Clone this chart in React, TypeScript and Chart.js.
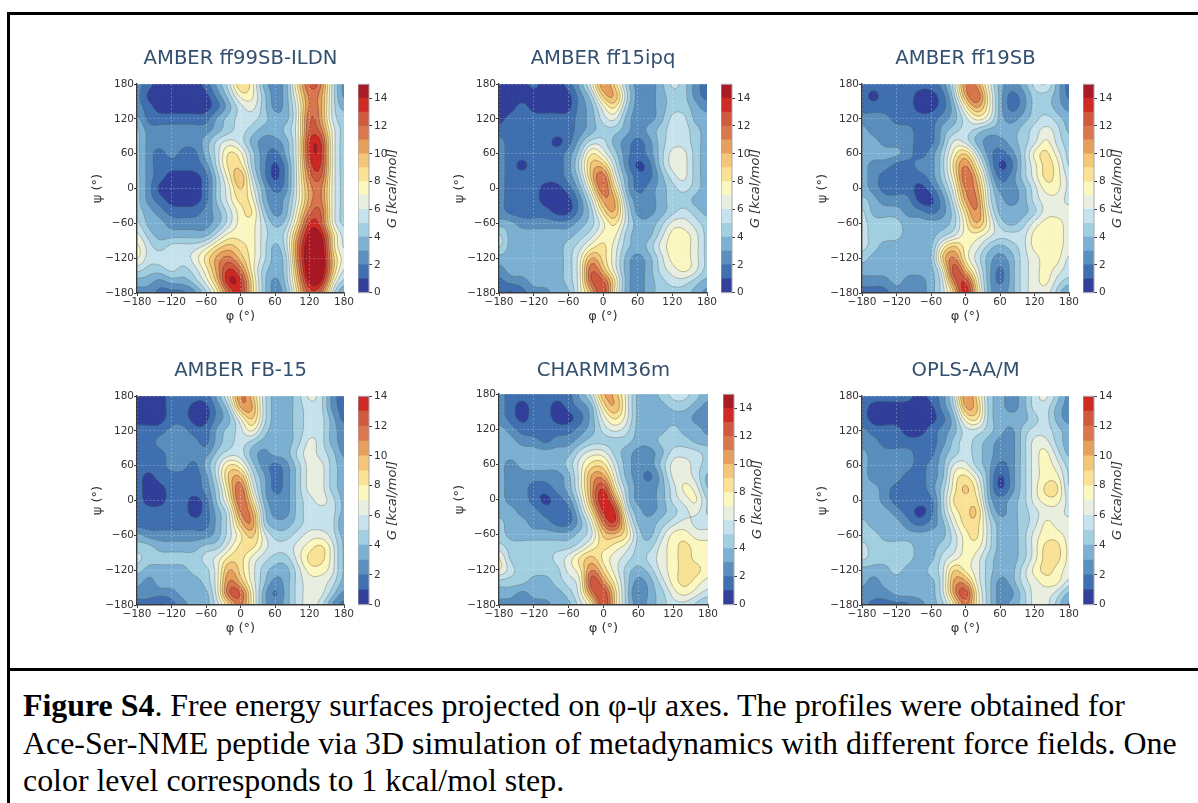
import React, { useEffect, useRef } from "react";
import { Chart, registerables } from "chart.js";

Chart.register(...registerables);

// Node positions of the free-energy grids (degrees)
const phiNodes = [-180, -160, -140, -120, -100, -80, -60, -40, -20, 0, 20, 40, 60, 80, 100, 120, 140, 160, 180];
const psiNodes = [180, 160, 140, 120, 100, 80, 60, 40, 20, 0, -20, -40, -60, -80, -100, -120, -140, -160, -180];

// Colour level (kcal/mol band, 1 kcal/mol each) read at every node; rows follow psiNodes, columns phiNodes
const ff99sbIldn = [
  [2,1,0,0,0,0,1,3,5,9,7,3,2,3,8,12,11,5,2],
  [2,0,0,0,0,0,0,2,4,7,7,4,2,3,7,11,10,5,2],
  [2,1,0,0,0,0,0,1,3,5,6,4,2,3,6,11,10,5,3],
  [3,1,1,1,1,1,1,3,4,5,5,4,3,3,6,12,10,5,4],
  [4,2,2,2,2,2,2,3,4,5,4,3,3,4,6,12,11,6,4],
  [4,2,2,2,2,2,3,5,6,5,3,2,2,3,6,13,13,6,4],
  [4,2,1,2,1,1,3,5,8,7,4,2,1,3,6,13,13,6,4],
  [4,2,1,1,1,1,2,5,8,8,4,2,0,2,6,12,13,6,4],
  [4,2,1,0,0,0,1,4,7,10,5,2,0,2,6,11,12,6,4],
  [4,2,0,0,0,0,1,4,6,9,6,3,1,2,6,10,11,6,4],
  [4,2,1,0,0,0,1,4,6,8,7,3,2,3,6,10,11,6,4],
  [4,3,2,1,1,1,2,3,5,7,8,4,2,3,7,11,12,6,4],
  [5,3,3,2,2,2,2,3,5,7,7,5,3,4,8,13,12,6,4],
  [6,4,3,3,3,3,3,5,7,7,7,5,4,5,10,14,14,8,5],
  [7,5,4,5,5,5,6,8,9,8,7,5,3,5,11,15,15,8,5],
  [7,5,5,5,5,6,8,10,11,9,7,5,3,4,11,15,15,9,6],
  [5,4,4,5,4,5,7,10,13,11,7,4,3,4,10,15,15,9,5],
  [3,3,2,3,3,4,6,9,14,13,8,4,2,4,9,14,14,7,4],
  [2,2,1,1,1,2,4,7,11,13,8,4,2,3,8,12,11,5,2],
];
const ff15ipq = [
  [0,0,0,1,0,0,1,3,6,11,8,4,2,2,3,5,4,2,1],
  [0,0,0,0,0,0,0,2,4,9,10,5,2,2,3,4,4,2,1],
  [0,0,1,0,0,0,0,2,3,6,8,4,2,2,3,4,4,3,2],
  [0,1,1,1,1,1,1,2,3,5,6,3,2,2,3,5,5,3,3],
  [1,1,1,1,1,1,1,2,3,4,4,3,2,3,4,5,5,4,3],
  [2,1,1,1,1,0,1,3,5,5,3,2,1,2,4,5,5,4,3],
  [2,1,1,1,1,1,2,4,8,6,4,2,1,2,4,6,6,4,3],
  [2,1,0,1,1,1,2,5,9,9,5,2,0,1,4,6,6,4,3],
  [2,1,1,1,1,1,2,4,9,12,6,3,1,1,3,5,6,4,3],
  [2,1,1,1,0,0,1,3,7,12,8,3,1,2,3,4,5,4,3],
  [2,1,1,1,0,0,0,2,5,10,10,4,2,2,3,4,4,3,3],
  [2,1,1,1,1,0,0,2,4,8,10,5,2,2,3,4,5,4,3],
  [3,3,2,2,2,2,2,3,4,6,8,5,3,3,4,6,6,5,4],
  [5,3,3,3,3,3,3,4,5,7,7,4,3,3,5,7,7,6,4],
  [5,3,3,3,3,3,4,5,7,8,6,4,3,4,6,7,7,6,4],
  [3,3,3,3,3,3,4,6,10,8,6,3,2,3,5,7,7,6,4],
  [2,3,3,3,3,3,4,6,12,9,6,3,2,3,5,6,7,6,4],
  [1,2,2,3,3,3,4,6,12,12,8,3,2,3,4,5,5,4,3],
  [1,0,1,2,2,3,3,6,9,13,7,3,2,3,4,4,4,3,2],
];
const ff19sb = [
  [1,1,1,1,1,1,1,2,5,11,10,6,3,2,3,5,6,3,1],
  [1,0,1,1,1,0,0,1,4,10,12,7,3,1,2,4,4,3,1],
  [1,1,1,1,1,0,0,1,3,7,10,7,3,1,2,4,4,3,2],
  [2,2,2,1,1,1,1,2,3,5,7,6,3,2,3,4,5,4,3],
  [3,2,2,2,2,1,1,3,4,5,4,3,3,3,4,5,6,5,3],
  [3,3,2,2,2,1,1,3,6,5,3,2,2,3,4,5,7,5,4],
  [3,3,3,3,2,1,2,4,7,9,5,2,1,2,4,7,8,6,4],
  [3,2,2,1,1,2,2,4,8,11,7,3,0,1,4,6,8,7,4],
  [3,2,1,1,1,1,2,4,7,12,9,4,1,2,4,6,8,7,5],
  [3,2,1,1,1,0,1,3,6,11,10,5,2,2,3,5,7,7,5],
  [4,3,2,2,2,0,0,2,5,10,11,5,3,2,3,5,6,6,5],
  [5,3,3,3,2,2,1,2,4,8,11,6,3,3,3,4,6,6,6],
  [5,4,4,4,3,3,3,3,4,7,10,7,4,3,4,6,7,7,6],
  [5,4,4,4,3,3,3,4,5,7,7,6,5,5,5,7,7,7,6],
  [5,4,3,3,3,3,3,7,9,7,6,4,3,4,5,7,7,7,6],
  [4,3,3,3,3,3,3,9,11,7,5,3,2,3,5,6,7,7,5],
  [3,3,3,3,3,3,3,6,13,9,6,3,1,3,5,6,7,6,5],
  [2,2,2,3,2,2,3,5,11,13,7,3,1,3,5,6,7,5,4],
  [1,1,1,2,2,2,3,5,8,14,8,3,2,3,5,6,6,4,2],
];
const fb15 = [
  [0,0,0,1,1,1,1,3,6,11,9,5,3,3,4,6,5,2,1],
  [0,0,0,1,1,0,0,2,4,10,10,5,3,3,4,5,5,2,1],
  [0,0,0,1,1,0,0,2,3,6,9,5,3,3,4,5,5,3,1],
  [1,1,1,2,2,1,1,3,4,5,7,4,3,3,4,5,5,3,2],
  [1,1,2,2,2,2,1,3,4,5,4,3,3,3,4,6,5,3,2],
  [1,1,1,2,2,2,2,4,5,5,3,2,3,3,5,6,5,4,2],
  [1,1,1,2,2,1,3,5,8,7,4,2,1,2,4,6,6,4,3],
  [1,0,1,1,1,1,2,5,9,10,5,3,1,2,4,6,6,4,3],
  [1,0,0,1,1,1,2,4,8,12,6,3,1,2,4,6,6,4,3],
  [1,0,0,1,1,0,1,4,7,12,8,3,2,2,4,5,6,5,3],
  [1,1,1,1,1,0,1,3,5,11,10,4,2,2,4,5,5,5,3],
  [1,1,1,1,1,1,1,3,5,9,11,4,3,3,4,5,5,5,2],
  [3,2,2,2,2,2,2,3,5,7,9,6,4,4,5,6,6,5,3],
  [4,4,3,3,3,3,4,4,6,8,8,6,5,5,6,7,8,6,3],
  [5,4,4,4,4,4,5,6,8,8,6,5,4,4,6,8,8,6,3],
  [4,3,3,3,3,4,4,6,10,8,6,4,3,3,5,7,7,6,3],
  [3,2,3,3,3,3,4,6,11,9,6,4,2,3,5,6,6,5,3],
  [2,2,2,2,3,3,3,6,12,12,7,3,1,3,5,6,6,4,2],
  [1,1,0,1,2,3,3,5,8,11,7,3,2,3,5,6,5,2,1],
];
const charmm36m = [
  [2,1,1,1,1,1,1,3,5,10,9,6,3,3,4,5,5,4,3],
  [2,1,0,1,1,0,1,2,3,8,10,6,3,3,3,4,4,3,2],
  [2,1,0,1,1,0,0,1,3,6,8,6,3,3,3,3,3,2,2],
  [3,2,1,1,1,1,1,2,3,5,6,5,3,3,3,4,3,3,2],
  [3,3,2,2,1,2,2,3,4,4,4,4,3,3,4,4,4,3,3],
  [3,3,3,3,3,3,3,5,6,6,4,3,2,2,3,5,5,5,4],
  [3,2,3,3,3,3,4,6,8,8,5,3,2,2,4,6,6,5,4],
  [3,2,2,2,2,2,3,6,10,10,6,3,2,1,3,6,6,5,3],
  [3,2,2,1,1,2,3,6,10,13,7,4,2,2,3,5,7,6,3],
  [3,2,2,1,0,1,2,5,10,14,10,4,2,2,3,5,6,7,4],
  [3,3,2,2,1,1,1,4,8,13,13,5,3,2,3,4,5,6,4],
  [4,3,3,2,2,1,1,3,6,11,13,7,3,3,4,5,6,5,5],
  [4,3,3,3,3,3,3,4,5,9,9,8,4,3,5,7,7,6,6],
  [5,4,4,4,4,4,4,5,7,8,7,6,4,4,6,7,8,7,7],
  [7,4,4,4,4,5,6,8,9,7,6,5,4,5,6,7,8,7,7],
  [7,5,4,4,4,4,6,7,11,8,6,4,3,4,6,7,8,8,7],
  [4,4,4,3,3,4,5,6,13,10,7,4,2,3,5,7,8,7,6],
  [3,3,2,3,3,3,4,6,11,13,8,4,1,3,4,6,7,6,5],
  [2,2,2,2,2,3,3,5,7,13,8,4,2,3,4,5,5,4,3],
];
const oplsAaM = [
  [1,1,1,1,1,0,1,2,5,11,8,4,3,2,3,5,6,4,2],
  [1,0,0,0,0,0,0,2,4,10,9,4,3,2,3,5,5,3,2],
  [1,0,0,0,0,0,0,1,3,7,8,4,3,3,3,4,5,3,2],
  [2,1,1,1,0,0,1,2,3,5,5,4,3,2,4,5,5,4,3],
  [2,2,1,1,1,1,1,2,4,5,4,3,2,2,4,6,6,4,3],
  [3,2,2,2,2,1,1,3,4,5,4,3,2,2,4,6,7,5,3],
  [3,2,2,2,2,1,2,3,6,6,4,3,1,2,4,6,7,6,4],
  [3,2,2,2,1,1,2,3,7,8,6,3,0,2,4,6,7,7,4],
  [3,3,2,1,1,1,2,4,7,9,7,3,0,2,4,6,8,8,4],
  [3,3,2,1,1,1,1,4,8,8,8,3,2,3,4,6,7,7,5],
  [3,3,3,2,1,0,1,4,7,8,9,4,2,3,4,5,6,6,5],
  [4,3,3,3,2,1,2,3,6,8,8,5,3,3,4,5,7,6,6],
  [4,4,3,3,3,3,3,3,5,7,8,5,3,3,4,6,7,7,6],
  [5,4,4,4,4,3,3,4,5,7,7,5,3,3,4,6,8,8,6],
  [5,4,4,4,4,3,3,5,6,7,6,4,3,3,4,6,8,8,6],
  [3,3,3,4,3,3,4,5,9,7,6,4,3,3,5,7,8,7,6],
  [3,2,3,3,3,3,3,5,10,10,6,4,2,3,5,6,7,7,5],
  [2,2,2,3,3,3,3,5,10,13,7,4,2,2,4,6,6,5,3],
  [2,1,1,1,1,2,3,4,7,11,7,4,2,3,4,6,6,4,2],
];

const bandColors = [
  "#33409a", "#4070b0", "#5b8fbd", "#7db0d2", "#a2cfe1",
  "#c6e2ec", "#e8efe0", "#faf7c0", "#f9e296", "#f3c679",
  "#e6a05e", "#d9774f", "#cf5a40", "#ce2a26", "#a81b27",
];

const panels = [
  { title: "AMBER ff99SB-ILDN", grid: ff99sbIldn, bands: 15, left: 137, top: 83, w: 207, h: 209, cb: 358, gap: 43 },
  { title: "AMBER ff15ipq", grid: ff15ipq, bands: 15, left: 499, top: 83, w: 208, h: 209, cb: 721, gap: 43 },
  { title: "AMBER ff19SB", grid: ff19sb, bands: 15, left: 862, top: 83, w: 207, h: 209, cb: 1083, gap: 43 },
  { title: "AMBER FB-15", grid: fb15, bands: 14, left: 137, top: 395, w: 207, h: 209, cb: 358, gap: 43 },
  { title: "CHARMM36m", grid: charmm36m, bands: 15, left: 499, top: 393, w: 209, h: 211, cb: 723, gap: 41 },
  { title: "OPLS-AA/M", grid: oplsAaM, bands: 14, left: 862, top: 395, w: 207, h: 209, cb: 1083, gap: 43 },
];

const TICK = "#333333";
const tickFont = { family: "'DejaVu Sans'", size: 10.5 };
const axisFont = { family: "'DejaVu Sans'", size: 13 };
const fmt = (v: any) => String(v).replace("-", "\u2212");

// Contour rendering of a grid through the chart's scales
function refine(values: number[][], factor: number) {
  const cr = (a: number, b: number, c: number, d: number, t: number) =>
    0.5 * (2 * b + (c - a) * t + (2 * a - 5 * b + 4 * c - d) * t * t + (3 * b - a - 3 * c + d) * t * t * t);
  const line = (src: number[]) => {
    const out: number[] = [];
    const at = (i: number) => src[Math.max(0, Math.min(src.length - 1, i))];
    for (let i = 0; i < src.length - 1; i++)
      for (let k = 0; k < factor; k++) out.push(cr(at(i - 1), at(i), at(i + 1), at(i + 2), k / factor));
    out.push(src[src.length - 1]);
    return out;
  };
  const soften = (src: number[]) => {
    let cur = src;
    for (let pass = 0; pass < 3; pass++) {
      cur = cur.map((v, i) => (cur[Math.max(0, i - 1)] + 2 * v + cur[Math.min(cur.length - 1, i + 1)]) / 4);
    }
    return cur;
  };
  const rows = values.map((r) => soften(line(r)));
  const cols: number[][] = rows[0].map((_, x) => soften(line(rows.map((r) => r[x]))));
  return cols[0].map((_, y) => cols.map((c) => c[y]));
}

const contourPlugin = {
  id: "contourBands",
  afterDatasetsDraw(chart: any, _a: any, opts: any) {
    if (!opts || !opts.values) return;
    const { ctx, chartArea, scales } = chart;
    const factor = 4;
    const fine = refine(opts.values, factor);
    const n = fine.length;
    const xs = fine[0].map((_: any, i: number) => scales.x.getPixelForValue(phiNodes[0] + (i * 20) / factor));
    const ys = fine.map((_: any, j: number) => scales.y.getPixelForValue(psiNodes[0] - (j * 20) / factor));
    ctx.save();
    ctx.beginPath();
    ctx.rect(chartArea.left, chartArea.top, chartArea.width, chartArea.height);
    ctx.clip();
    const lines = new Path2D();
    for (let L = 0; L < opts.bands; L++) {
      ctx.beginPath();
      for (let j = 0; j < n - 1; j++) {
        for (let i = 0; i < n - 1; i++) {
          const c = [
            [xs[i], ys[j], L === 0 ? 1e3 : fine[j][i]],
            [xs[i + 1], ys[j], L === 0 ? 1e3 : fine[j][i + 1]],
            [xs[i + 1], ys[j + 1], L === 0 ? 1e3 : fine[j + 1][i + 1]],
            [xs[i], ys[j + 1], L === 0 ? 1e3 : fine[j + 1][i]],
          ];
          if (c.every((p) => p[2] < L)) continue;
          const poly: number[][] = [];
          const cross: number[][] = [];
          for (let q = 0; q < 4; q++) {
            const a = c[q];
            const b = c[(q + 1) % 4];
            if (a[2] >= L) poly.push(a);
            if (a[2] >= L !== b[2] >= L) {
              const t = (L - a[2]) / (b[2] - a[2]);
              const p = [a[0] + (b[0] - a[0]) * t, a[1] + (b[1] - a[1]) * t, L];
              poly.push(p);
              cross.push(p);
            }
          }
          ctx.moveTo(poly[0][0], poly[0][1]);
          for (let q = 1; q < poly.length; q++) ctx.lineTo(poly[q][0], poly[q][1]);
          ctx.closePath();
          for (let q = 0; q + 1 < cross.length; q += 2) {
            lines.moveTo(cross[q][0], cross[q][1]);
            lines.lineTo(cross[q + 1][0], cross[q + 1][1]);
          }
        }
      }
      ctx.fillStyle = bandColors[L];
      ctx.strokeStyle = bandColors[L];
      ctx.lineWidth = 0.5;
      ctx.fill();
      ctx.stroke();
    }
    ctx.strokeStyle = "rgba(45,45,45,0.5)";
    ctx.lineWidth = 0.6;
    ctx.stroke(lines);
    ctx.restore();
  },
};

const colorbarPlugin = {
  id: "colorbarFrame",
  afterDraw(chart: any, _a: any, opts: any) {
    if (!opts || !opts.label) return;
    const { ctx, chartArea: ca } = chart;
    ctx.save();
    ctx.strokeStyle = "#a8a8a8";
    ctx.lineWidth = 1;
    ctx.strokeRect(ca.left, ca.top, ca.width, ca.height);
    ctx.translate(ca.right + 24, (ca.top + ca.bottom) / 2);
    ctx.rotate(-Math.PI / 2);
    ctx.fillStyle = TICK;
    ctx.font = "italic 13px 'DejaVu Sans'";
    ctx.textAlign = "center";
    ctx.textBaseline = "middle";
    ctx.fillText(opts.label, 0, 0);
    ctx.restore();
  },
};

function axis(position: string, label: string, fit: (s: any) => void) {
  return {
    type: "linear",
    position,
    min: -180,
    max: 180,
    afterFit: fit,
    border: { display: true, color: "#3a3a3a", width: 1.4, dash: [2, 2], z: 2 },
    grid: { color: "rgba(255,255,255,0.38)", lineWidth: 0.7, z: 1, tickLength: 3, tickColor: "#3a3a3a", tickWidth: 1 },
    ticks: { stepSize: 60, color: TICK, font: tickFont, padding: 0, maxRotation: 0, autoSkip: false, callback: fmt },
    title: { display: true, text: label, color: TICK, font: axisFont, padding: 0 },
  };
}

const canvasStyle = (left: number, top: number, w: number, h: number): any => ({
  position: "absolute",
  left,
  top,
  width: w,
  height: h,
  filter: "blur(0.4px)",
});

function Panel({ p }: { p: (typeof panels)[number] }) {
  const heat = useRef<HTMLCanvasElement | null>(null);
  const bar = useRef<HTMLCanvasElement | null>(null);
  const leftW = 47;
  const rightW = 15;
  const bottomH = 31;
  const cbPad = 8;
  const cbAxisW = 49;
  const nudge = 1;

  useEffect(() => {
    const points: any[] = [];
    const colors: string[] = [];
    p.grid.forEach((row, j) =>
      row.forEach((band, i) => {
        points.push({ x: phiNodes[i], y: psiNodes[j] });
        colors.push(bandColors[Math.min(band, p.bands - 1)]);
      })
    );
    const heatChart = new Chart(heat.current as any, {
      type: "scatter",
      data: {
        datasets: [
          {
            label: p.title,
            data: points,
            pointStyle: "rect",
            pointRadius: (c: any) => (c.chart.chartArea ? (c.chart.chartArea.width / (phiNodes.length - 1)) * 0.75 : 8),
            pointBackgroundColor: colors,
            pointBorderWidth: 0,
          },
        ],
      },
      options: {
        animation: false,
        responsive: false,
        events: [],
        layout: { padding: { right: rightW } },
        plugins: {
          legend: { display: false },
          tooltip: { enabled: false },
          title: {
            display: true,
            text: p.title,
            color: "#34506f",
            fullSize: false,
            font: { family: "'DejaVu Sans'", size: 19.6, weight: "normal", lineHeight: 1.2 },
            padding: { top: 6, bottom: p.gap - 29.5 },
          },
          contourBands: { values: p.grid.map((r) => r.map((b) => b + 0.5)), bands: p.bands },
        },
        scales: {
          x: axis("bottom", "\u03c6 (\u00b0)", (s: any) => (s.height = bottomH)),
          y: axis("left", "\u03c8 (\u00b0)", (s: any) => (s.width = leftW)),
        },
      } as any,
      plugins: [contourPlugin],
    } as any);

    const barChart = new Chart(bar.current as any, {
      type: "bar",
      data: {
        labels: ["G"],
        datasets: bandColors.slice(0, p.bands).map((color, i) => ({
          label: String(i),
          data: [1],
          backgroundColor: color,
          barPercentage: 1,
          categoryPercentage: 1,
          borderWidth: 0,
        })),
      },
      options: {
        animation: false,
        responsive: false,
        events: [],
        layout: { padding: { top: cbPad, bottom: cbPad } },
        plugins: {
          legend: { display: false },
          tooltip: { enabled: false },
          colorbarFrame: { label: "G [kcal/mol]" },
        },
        scales: {
          x: { stacked: true, display: false },
          y: {
            stacked: true,
            position: "right",
            min: 0,
            max: p.bands,
            afterFit: (s: any) => (s.width = cbAxisW),
            border: { display: false },
            grid: { display: true, drawOnChartArea: false, tickLength: 3, tickColor: "#3a3a3a" },
            ticks: { stepSize: 2, includeBounds: false, color: TICK, font: tickFont, padding: 2 },
          },
        },
      } as any,
      plugins: [colorbarPlugin],
    } as any);

    return () => {
      heatChart.destroy();
      barChart.destroy();
    };
  }, []);

  const hw = leftW + p.w + rightW;
  const hh = p.gap + p.h + bottomH;
  const bw = 11 + cbAxisW;
  const bh = p.h + cbPad * 2;
  return (
    <>
      <canvas ref={heat} width={hw} height={hh} style={canvasStyle(p.left - leftW, p.top - p.gap + nudge, hw, hh)} />
      <canvas ref={bar} width={bw} height={bh} style={canvasStyle(p.cb, p.top - cbPad + nudge, bw, bh)} />
    </>
  );
}

const rule = (left: number, top: number, width: number, height: number): any => ({
  position: "absolute",
  left,
  top,
  width,
  height,
  background: "#000",
});

export default function App() {
  return (
    <div style={{ position: "fixed", left: 0, top: 0, width: 1198, height: 803, overflow: "hidden", background: "#fff" }}>
      <div style={rule(7, 12, 1191, 3)} />
      <div style={rule(7, 12, 3, 791)} />
      <div style={rule(7, 668, 1191, 3)} />
      {panels.map((p) => (
        <Panel key={p.title} p={p} />
      ))}
      <div
        style={{
          position: "absolute",
          left: 23,
          top: 687,
          whiteSpace: "nowrap",
          fontFamily: "'Liberation Serif'",
          fontSize: 31.9,
          lineHeight: "37.6px",
          color: "#000",
        }}
      >
        <b>Figure S4</b>. Free energy surfaces projected on φ-ψ axes. The profiles were obtained for
        <br />
        Ace-Ser-NME peptide via 3D simulation of metadynamics with different force fields. One
        <br />
        color level corresponds to 1 kcal/mol step.
      </div>
    </div>
  );
}
